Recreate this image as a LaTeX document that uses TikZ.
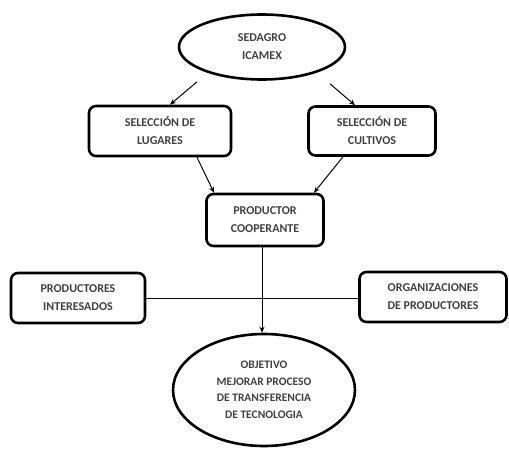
\documentclass[tikz,border=0pt]{standalone}
\usepackage{fontspec}
\setmainfont{Carlito}
\usetikzlibrary{shapes.geometric,arrows.meta}
\begin{document}
\begin{tikzpicture}[x=1pt,y=-1pt,
  txt/.style={font=\fontsize{12}{18}\selectfont\bfseries, text=black!75, align=center, inner sep=0pt},
  box/.style={txt, draw, line width=2.6pt, rounded corners=7pt},
  ell/.style={txt, ellipse, draw, line width=2.6pt},
  conn/.style={line width=1pt, -{Stealth[length=6pt,width=5pt]}},
  plain/.style={line width=0.9pt}]
\useasboundingbox (0,0) rectangle (509,450);
\node[ell, minimum width=166pt, minimum height=65pt] (sed) at (262,47) {SEDAGRO\\ICAMEX};
\node[box, minimum width=142pt, minimum height=50pt] (lug) at (160,131) {SELECCIÓN DE\\LUGARES};
\node[box, minimum width=127pt, minimum height=49pt] (cul) at (372,131) {SELECCIÓN DE\\CULTIVOS};
\node[box, minimum width=117pt, minimum height=52pt] (coop) at (265,220) {PRODUCTOR\\COOPERANTE};
\node[box, minimum width=134pt, minimum height=50pt] (int) at (78,298) {PRODUCTORES\\INTERESADOS};
\node[box, minimum width=147pt, minimum height=50pt] (org) at (433,297) {ORGANIZACIONES\\DE PRODUCTORES};
\node[ell, minimum width=182pt, minimum height=112pt, font=\fontsize{11.5}{16.5}\selectfont\bfseries] (obj) at (264,390) {OBJETIVO\\MEJORAR PROCESO\\DE TRANSFERENCIA\\DE TECNOLOGIA};
\draw[conn] ([xshift=-65pt,yshift=-1pt]sed.south) -- ([xshift=10pt]lug.north);
\draw[conn] ([xshift=68pt,yshift=-3pt]sed.south) -- ([xshift=-17pt]cul.north);
\draw[conn] ([xshift=37pt]lug.south) -- ([xshift=-51pt]coop.north);
\draw[conn] ([xshift=-29pt]cul.south) -- ([xshift=49pt]coop.north);
\draw[plain] (int.east) -- (int.east -| org.west);
\draw[conn] ([xshift=-3pt]coop.south) -- ([xshift=-3pt]coop.south |- obj.north);
\end{tikzpicture}
\end{document}
